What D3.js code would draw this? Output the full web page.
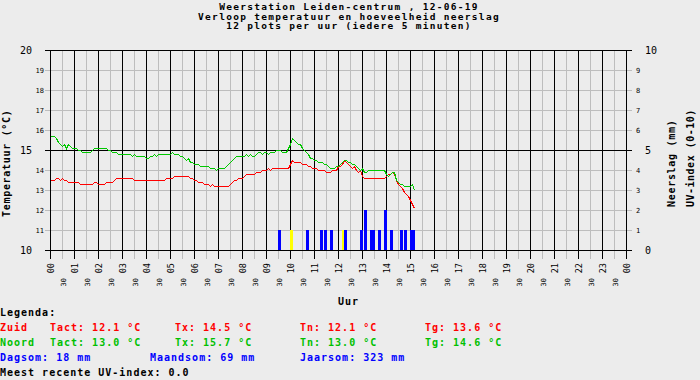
<!DOCTYPE html>
<html><head><meta charset="utf-8">
<script src="https://cdn.jsdelivr.net/npm/d3@7"></script>
<style>
html,body{margin:0;padding:0;background:#ececec;}
svg{display:block;}
text{font-family:"DejaVu Sans Mono","Liberation Mono",monospace;}
</style></head><body>
<svg id="c" width="700" height="380"></svg>
<script>
// ---------- DATA ----------
const titleLines = [
  "Weerstation Leiden-centrum , 12-06-19",
  "Verloop temperatuur en hoeveelheid neerslag",
  "12 plots per uur (iedere 5 minuten)"
];
const stepMinutes = 5; // one value every 5 minutes, starting 00:00

const tempZuid = [
  13.5,13.5,13.5,13.6,13.6,13.5,13.6,13.5,13.5,13.4,13.4,13.4,
  13.4,13.4,13.4,13.3,13.3,13.3,13.3,13.3,13.3,13.3,13.4,13.4,
  13.3,13.3,13.3,13.3,13.4,13.4,13.4,13.4,13.5,13.6,13.6,13.6,
  13.6,13.6,13.6,13.6,13.6,13.6,13.5,13.5,13.5,13.5,13.5,13.5,
  13.5,13.5,13.5,13.5,13.5,13.5,13.5,13.5,13.5,13.5,13.6,13.6,
  13.6,13.6,13.7,13.7,13.7,13.7,13.7,13.7,13.7,13.7,13.6,13.6,
  13.5,13.5,13.4,13.4,13.4,13.3,13.3,13.3,13.2,13.3,13.2,13.2,
  13.2,13.2,13.2,13.2,13.2,13.2,13.3,13.4,13.5,13.5,13.6,13.6,
  13.6,13.7,13.8,13.8,13.8,13.8,13.8,13.9,13.9,13.9,14.0,14.0,
  14.0,14.1,14.0,14.1,14.1,14.1,14.1,14.1,14.1,14.1,14.1,14.1,
  14.3,14.5,14.4,14.4,14.4,14.4,14.3,14.3,14.3,14.2,14.2,14.1,
  14.1,14.1,14.0,14.0,14.0,14.0,13.9,13.9,13.9,14.0,14.0,14.0,
  14.2,14.2,14.3,14.5,14.4,14.3,14.2,14.1,14.2,14.0,13.9,14.0,
  13.7,13.6,13.6,13.6,13.6,13.6,13.6,13.6,13.6,13.6,13.6,13.6,
  13.7,13.8,13.8,13.9,13.8,13.5,13.3,13.2,13.1,12.9,12.8,12.7,
  12.5,12.3,12.1
];
const tempNoord = [
  15.7,15.7,15.7,15.6,15.4,15.3,15.2,15.3,15.1,15.3,15.2,15.1,
  15.1,15.1,15.0,15.0,14.9,14.9,14.9,14.9,14.9,15.0,15.1,15.1,
  15.1,15.1,15.1,15.1,15.1,15.0,15.0,14.9,14.9,14.9,14.8,14.8,
  14.8,14.8,14.8,14.8,14.8,14.7,14.8,14.7,14.7,14.7,14.7,14.7,
  14.6,14.6,14.7,14.7,14.8,14.7,14.8,14.8,14.8,14.8,14.8,14.8,
  14.8,14.9,14.8,14.8,14.8,14.7,14.7,14.6,14.5,14.6,14.4,14.4,
  14.3,14.3,14.3,14.2,14.2,14.2,14.2,14.2,14.1,14.1,14.1,14.0,
  14.1,14.1,14.1,14.1,14.2,14.3,14.4,14.5,14.6,14.7,14.7,14.7,
  14.7,14.7,14.8,14.7,14.8,14.7,14.7,14.8,14.9,14.9,14.8,14.9,
  14.9,14.8,14.9,14.9,14.9,15.0,15.0,15.0,14.9,14.9,14.9,15.1,
  15.3,15.6,15.5,15.4,15.3,15.3,15.1,15.0,14.9,14.8,14.6,14.6,
  14.5,14.5,14.4,14.4,14.4,14.3,14.3,14.2,14.1,14.1,14.1,14.2,
  14.2,14.3,14.4,14.5,14.5,14.4,14.4,14.3,14.3,14.2,14.1,14.0,
  14.1,13.9,13.9,14.0,14.0,14.0,14.0,14.0,14.0,14.0,14.0,14.0,
  13.8,13.7,13.8,13.9,13.9,13.5,13.4,13.3,13.3,13.2,13.2,13.2,
  13.2,13.3,13.0
];
const rainTimes  = ["09:30","10:40","11:15","11:25","11:40","12:15","12:55","13:05","13:20","13:25","13:40","13:55","14:10","14:35","14:45","15:00","15:05"];
const rainValues = [1,1,1,1,1,1,1,2,1,1,1,2,1,1,1,1,1];
const yellowTimes  = ["10:00","12:10"];
const yellowValues = [1,1];

const hourLabels = ["00","01","02","03","04","05","06","07","08","09","10","11","12","13","14","15","16","17","18","19","20","21","22","23","00"];
const halfHourLabel = "30";
const tempTicks = [10,11,12,13,14,15,16,17,18,19,20];
const rainTicks = [0,1,2,3,4,5,6,7,8,9,10];

const legendRows = [
  {color:"#000000", items:[["Legenda:",0]]},
  {color:"#ff0000", items:[["Zuid",0],["Tact: 12.1 °C",50],["Tx: 14.5 °C",175],["Tn: 12.1 °C",300],["Tg: 13.6 °C",425]]},
  {color:"#00c000", items:[["Noord",0],["Tact: 13.0 °C",50],["Tx: 15.7 °C",175],["Tn: 13.0 °C",300],["Tg: 14.6 °C",425]]},
  {color:"#0000ff", items:[["Dagsom: 18 mm",0],["Maandsom: 69 mm",150],["Jaarsom: 323 mm",300]]},
  {color:"#000000", items:[["Meest recente UV-index: 0.0",0]]}
];

// ---------- DRAW ----------
const svg = d3.select("#c");
svg.append("rect").attr("width",700).attr("height",380).attr("fill","#ececec");

const x = d3.scaleLinear().domain([0,24]).range([50,626]);
const yT = d3.scaleLinear().domain([10,20]).range([250,50]);
const yR = d3.scaleLinear().domain([0,10]).range([250,50]);
const toHours = s => { const [h,m] = s.split(":").map(Number); return h + m/60; };

const GRAY = "#bdbdbd";
const g = svg.append("g").attr("shape-rendering","crispEdges");

// gray grid
const halfHours = d3.range(0,24).map(h=>h+0.5);
g.selectAll(".vg").data(halfHours).join("line")
  .attr("x1",d=>Math.round(x(d))+0.5).attr("x2",d=>Math.round(x(d))+0.5)
  .attr("y1",50).attr("y2",259).attr("stroke",GRAY);
g.selectAll(".hg").data(tempTicks.filter(t=>t%5!==0)).join("line")
  .attr("x1",45).attr("x2",632)
  .attr("y1",d=>yT(d)+0.5).attr("y2",d=>yT(d)+0.5).attr("stroke",GRAY);
// black grid
g.selectAll(".vb").data(d3.range(0,25)).join("line")
  .attr("x1",d=>Math.round(x(d))+0.5).attr("x2",d=>Math.round(x(d))+0.5)
  .attr("y1",50).attr("y2",259).attr("stroke","#000");
g.selectAll(".hb").data(tempTicks.filter(t=>t%5===0)).join("line")
  .attr("x1",45).attr("x2",632)
  .attr("y1",d=>yT(d)+0.5).attr("y2",d=>yT(d)+0.5).attr("stroke","#000");

// bars
const bars = svg.append("g").attr("shape-rendering","crispEdges");
bars.selectAll(".yb").data(yellowTimes.map((t,i)=>({t:toHours(t),v:yellowValues[i]}))).join("rect")
  .attr("x",d=>Math.round(x(d.t))).attr("width",3)
  .attr("y",d=>yR(d.v)).attr("height",d=>yR(0)-yR(d.v)).attr("fill","#ffff00");
bars.selectAll(".bb").data(rainTimes.map((t,i)=>({t:toHours(t),v:rainValues[i]}))).join("rect")
  .attr("x",d=>Math.round(x(d.t))).attr("width",3)
  .attr("y",d=>yR(d.v)).attr("height",d=>yR(0)-yR(d.v)).attr("fill","#0000ff");

// temperature lines
const line = d3.line()
  .x((d,i)=>Math.round(x(i*stepMinutes/60))+0.5)
  .y(d=>Math.round(yT(d))+0.5);
svg.append("path").datum(tempZuid).attr("d",line).attr("fill","none")
  .attr("stroke","#ff0000").attr("stroke-width",1).attr("shape-rendering","crispEdges");
svg.append("path").datum(tempNoord).attr("d",line).attr("fill","none")
  .attr("stroke","#00c800").attr("stroke-width",1).attr("shape-rendering","crispEdges");

// title
svg.selectAll(".title").data(titleLines).join("text")
  .attr("x",349).attr("y",(d,i)=>10+i*9.6).attr("text-anchor","middle")
  .attr("font-size",9.5).attr("font-weight","bold").attr("letter-spacing",1.3)
  .text(d=>d);

// left axis labels
svg.selectAll(".ltb").data(tempTicks.filter(t=>t%5===0)).join("text")
  .attr("x",32).attr("y",d=>yT(d)+4).attr("text-anchor","end")
  .attr("font-size",10).text(d=>d);
svg.selectAll(".lts").data(tempTicks.filter(t=>t%5!==0)).join("text")
  .attr("x",44).attr("y",d=>yT(d)+3).attr("text-anchor","end")
  .attr("font-size",7).text(d=>d);
// right axis labels
svg.selectAll(".rtb").data(rainTicks.filter(t=>t%5===0)).join("text")
  .attr("x",645).attr("y",d=>yR(d)+4).attr("text-anchor","start")
  .attr("font-size",10).text(d=>d);
svg.selectAll(".rts").data(rainTicks.filter(t=>t%5!==0)).join("text")
  .attr("x",636).attr("y",d=>yR(d)+3).attr("text-anchor","start")
  .attr("font-size",7).text(d=>d);

// axis titles
const rot = (sel,tx,ty)=>sel.attr("transform",`translate(${tx},${ty}) rotate(-90)`);
rot(svg.append("text"),10,217).attr("text-anchor","start").attr("font-size",10)
  .attr("font-weight","bold").attr("letter-spacing",0.7).text("Temperatuur (°C)");
rot(svg.append("text"),675,207).attr("text-anchor","start").attr("font-size",10)
  .attr("font-weight","bold").attr("letter-spacing",0.7).text("Neerslag (mm)");
rot(svg.append("text"),694,207).attr("text-anchor","start").attr("font-size",10)
  .attr("font-weight","bold").attr("letter-spacing",0.5).text("UV-index (0-10)");

// x labels
svg.selectAll(".xh").data(hourLabels).join("text")
  .attr("transform",(d,i)=>`translate(${Math.round(x(i))+1},263) rotate(-90)`)
  .attr("dy","0.35em").attr("text-anchor","end").attr("font-size",8.5).text(d=>d);
svg.selectAll(".xhh").data(halfHours).join("text")
  .attr("transform",d=>`translate(${Math.round(x(d))+1.5},278) rotate(-90)`)
  .attr("dy","0.35em").attr("text-anchor","end").attr("font-size",7).text(halfHourLabel);
svg.append("text").attr("x",338).attr("y",305).attr("font-size",10)
  .attr("font-weight","bold").attr("letter-spacing",1).text("Uur");

// legend
legendRows.forEach((row,r)=>{
  row.items.forEach(([txt,px])=>{
    svg.append("text").attr("x",px).attr("y",316+r*15)
      .attr("font-size",10).attr("font-weight","bold").attr("letter-spacing",1)
      .attr("fill",row.color).text(txt);
  });
});
</script>
</body></html>
